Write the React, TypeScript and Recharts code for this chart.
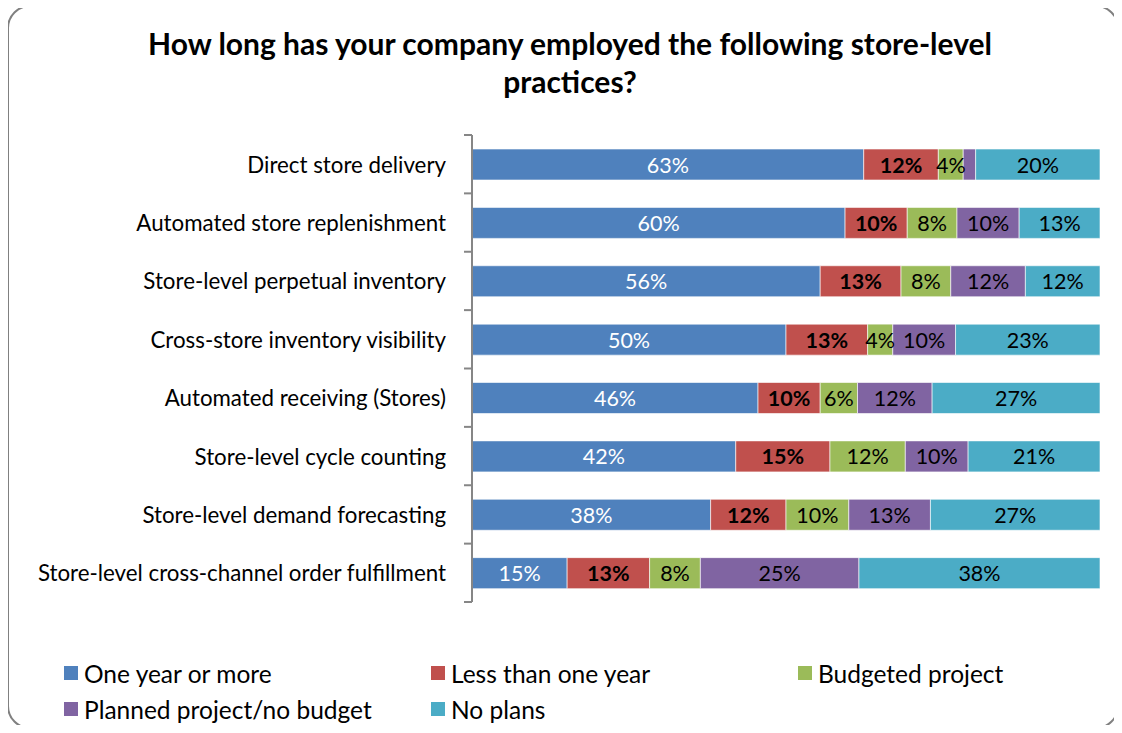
import React from "react";
import { BarChart, Bar, XAxis, YAxis, LabelList } from "recharts";

const categories = [
  "Direct store delivery",
  "Automated store replenishment",
  "Store-level perpetual inventory",
  "Cross-store inventory visibility",
  "Automated receiving (Stores)",
  "Store-level cycle counting",
  "Store-level demand forecasting",
  "Store-level cross-channel order fulfillment",
];
const oneYearOrMore = [63, 60, 56, 50, 46, 42, 38, 15];
const lessThanOneYear = [12, 10, 13, 13, 10, 15, 12, 13];
const budgetedProject = [4, 8, 8, 4, 6, 12, 10, 8];
const plannedNoBudget = [2, 10, 12, 10, 12, 10, 13, 25];
const noPlans = [20, 13, 12, 23, 27, 21, 27, 38];

const seriesDefs = [
  { key: "one", name: "One year or more", values: oneYearOrMore, color: "#4F81BD", text: "#FFFFFF", bold: false },
  { key: "less", name: "Less than one year", values: lessThanOneYear, color: "#C0504D", text: "#000000", bold: true },
  { key: "budget", name: "Budgeted project", values: budgetedProject, color: "#9BBB59", text: "#000000", bold: false },
  { key: "planned", name: "Planned project/no budget", values: plannedNoBudget, color: "#8064A2", text: "#000000", bold: false },
  { key: "none", name: "No plans", values: noPlans, color: "#4BACC6", text: "#000000", bold: false },
];

const data = categories.map((c, i) => {
  const row: any = { name: c };
  seriesDefs.forEach((s) => (row[s.key] = s.values[i]));
  return row;
});

const FONT = "Lato, 'Open Sans', sans-serif";
const PLOT_TOP = 135;
const PLOT_BOTTOM = 602;
const BAND = (PLOT_BOTTOM - PLOT_TOP) / categories.length;

const makeLabel = (color: string, bold: boolean) => (props: any) => {
  const { x, y, width, height, value } = props;
  if (width < 16) return null;
  return (
    <text
      x={x + width / 2}
      y={y + height / 2}
      textAnchor="middle"
      dominantBaseline="central"
      fill={color}
      fontSize={21.5}
      fontWeight={bold ? 700 : 400}
      fontFamily={FONT}
    >
      {`${value}%`}
    </text>
  );
};

const CategoryTick = (props: any) => {
  const { x, y, payload, index } = props;
  const axisX = 472;
  const top = y - BAND / 2;
  return (
    <g>
      <line x1={axisX - 8} x2={axisX} y1={top} y2={top} stroke="#868686" strokeWidth={2} />
      {index === categories.length - 1 && (
        <line x1={axisX - 8} x2={axisX} y1={y + BAND / 2} y2={y + BAND / 2} stroke="#868686" strokeWidth={2} />
      )}
      <text x={x} y={y} textAnchor="end" dominantBaseline="central" fill="#000" fontSize={22.3} fontFamily={FONT}>
        {payload.value}
      </text>
    </g>
  );
};

const legendItems = [
  { s: seriesDefs[0], x: 64, y: 673 },
  { s: seriesDefs[1], x: 431, y: 673 },
  { s: seriesDefs[2], x: 798, y: 673 },
  { s: seriesDefs[3], x: 64, y: 709 },
  { s: seriesDefs[4], x: 431, y: 709 },
];

export default function App() {
  return (
    <div style={{ position: "relative", margin: -8, width: 1122, height: 733, overflow: "hidden", background: "#fff", fontFamily: FONT }}>
      <div
        style={{
          position: "absolute",
          left: 0,
          top: 24,
          width: 1140,
          textAlign: "center",
          fontSize: 30,
          fontWeight: 700,
          lineHeight: "38px",
          color: "#000",
        }}
      >
        How long has your company employed the following store-level
        <br />
        practices?
      </div>
      <div style={{ position: "absolute", left: 0, top: 0 }}>
        <BarChart
          width={1122}
          height={733}
          data={data}
          layout="vertical"
          stackOffset="expand"
          barSize={31}
          margin={{ top: PLOT_TOP, right: 22, bottom: 733 - PLOT_BOTTOM, left: 0 }}
        >
          <XAxis type="number" hide domain={[0, 1]} />
          <YAxis
            type="category"
            dataKey="name"
            width={472}
            axisLine={{ stroke: "#868686", strokeWidth: 2 }}
            tickLine={false}
            tickSize={0}
            tickMargin={26}
            interval={0}
            tick={<CategoryTick />}
          />
          {seriesDefs.map((s) => (
            <Bar
              key={s.key}
              dataKey={s.key}
              name={s.name}
              stackId="a"
              fill={s.color}
              stroke="#ffffff"
              strokeOpacity={0.6}
              strokeWidth={1}
              isAnimationActive={false}
            >
              <LabelList dataKey={s.key} content={makeLabel(s.text, s.bold)} />
            </Bar>
          ))}
        </BarChart>
      </div>
      {legendItems.map(({ s, x, y }) => (
        <div
          key={s.key}
          style={{ position: "absolute", left: x, top: y - 15, height: 30, display: "flex", alignItems: "center" }}
        >
          <div style={{ width: 14, height: 14, background: s.color, marginRight: 6 }} />
          <span style={{ fontSize: 24.5, color: "#000" }}>{s.name}</span>
        </div>
      ))}
      <svg width={1122} height={733} style={{ position: "absolute", left: 0, top: 0, pointerEvents: "none" }}>
        <rect x={8} y={6} width={1110} height={722} rx={22} ry={22} fill="none" stroke="#808080" strokeWidth={2} />
      </svg>
    </div>
  );
}
